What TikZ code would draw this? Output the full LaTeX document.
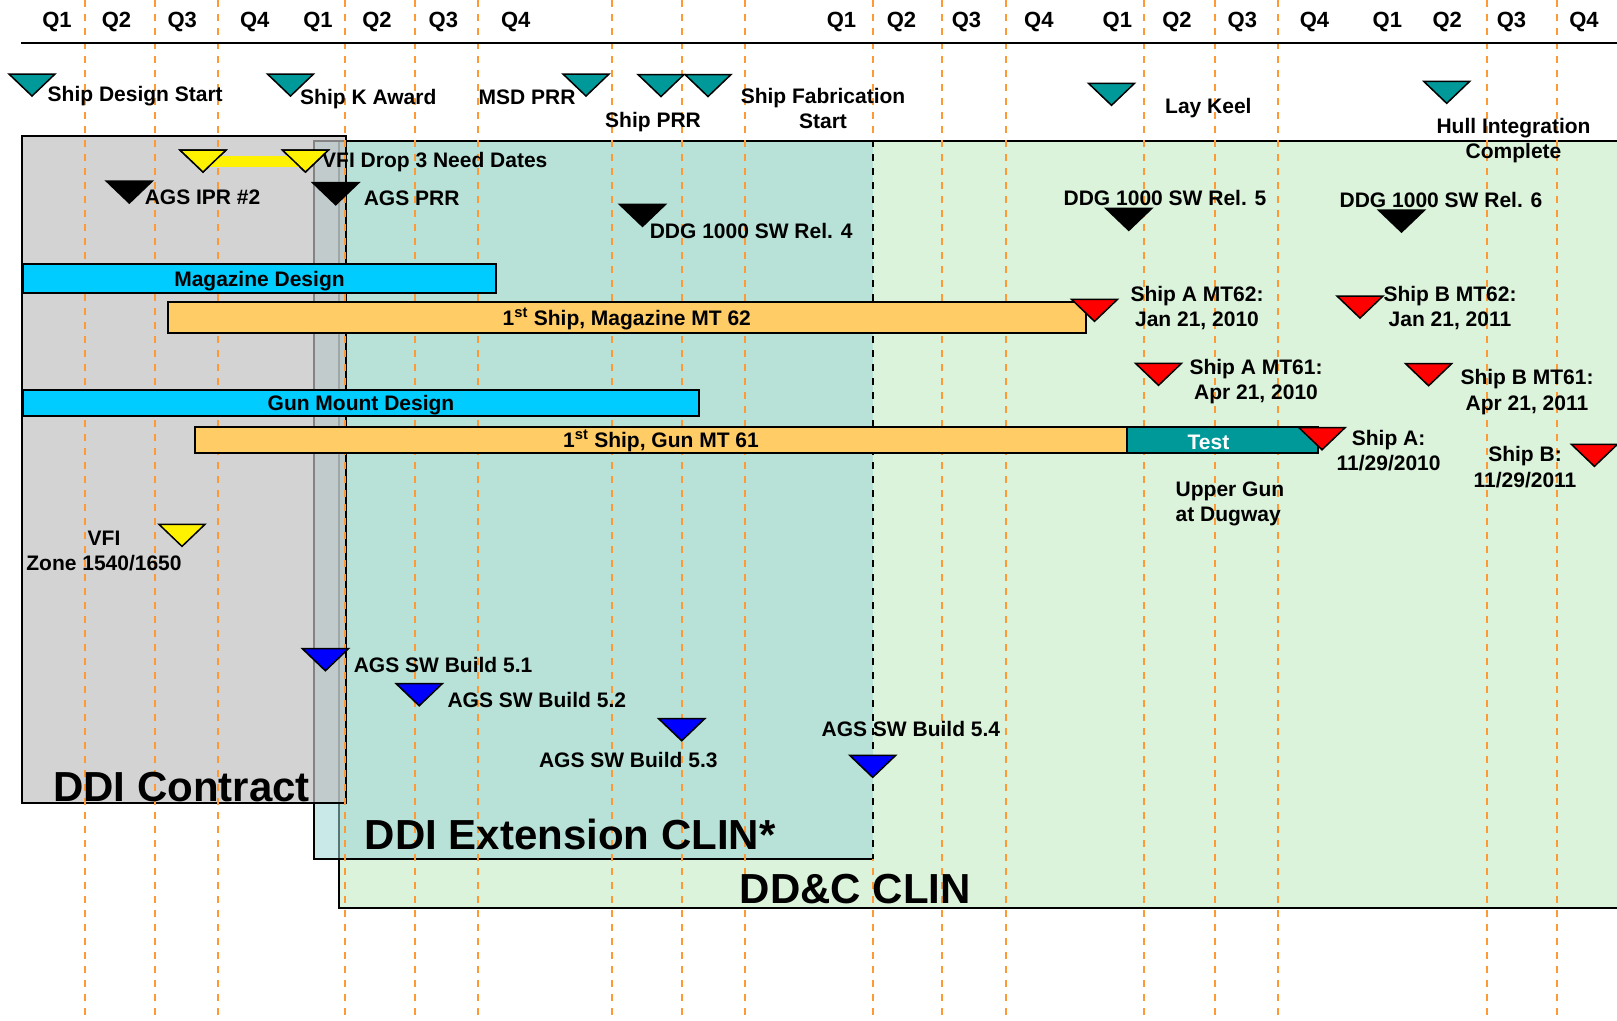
\documentclass[tikz,border=0pt]{standalone}
\usepackage{fontspec}
\setmainfont{Liberation Sans}
\usetikzlibrary{shapes.geometric}
\definecolor{mteal}{HTML}{009999}
\definecolor{mcyan}{HTML}{00CCFF}
\definecolor{mtan}{HTML}{FFCC66}
\definecolor{mgray}{HTML}{BFBFBF}
\definecolor{mext}{HTML}{9DD5D5}
\definecolor{mgreen}{HTML}{DBF2DB}
\definecolor{qcol}{HTML}{FF9933}
\definecolor{red}{HTML}{FF0000}
\tikzstyle{ms} = [isosceles triangle, isosceles triangle stretches, shape border rotate=270, minimum width=46pt, minimum height=22pt, inner sep=0pt, draw=black, line width=1.5pt, anchor=apex]
\tikzstyle{lbl} = [inner sep=0pt, anchor=base west, font=\bfseries\fontsize{21}{25.5}\selectfont]
\tikzstyle{lbl2} = [lbl, anchor=center, align=center]
\tikzstyle{bar} = [draw=black, line width=1.5pt, inner sep=0pt, text height=15pt, text depth=0pt, font=\bfseries\fontsize{21}{25.5}\selectfont]
\tikzstyle{big} = [inner sep=0pt, anchor=base west, font=\bfseries\fontsize{42}{48}\selectfont]
\tikzstyle{clin} = [draw=black, line width=2pt]
\tikzstyle{qline} = [draw=qcol, line width=2pt, dash pattern=on 7pt off 7pt]
\tikzstyle{vfibar} = [draw=yellow, line width=11pt]

\begin{document}
\begin{tikzpicture}[x=1pt, y=-1pt]
	\useasboundingbox (0,0) rectangle (1617,1020);
	\fill[mgreen] (339,141) rectangle (1640,908);
	\draw[clin] (1640,141) -- (339,141) -- (339,908) -- (1640,908);
	\fill[mext, fill opacity=.55] (313.5,141) rectangle (872.8,859);
	\draw[clin] (872.8,141) -- (313.5,141) -- (313.5,859) -- (872.8,859);
	\fill[mgray, fill opacity=.69] (22,136) rectangle (346.4,802.7);
	\draw[clin] (22,136) rectangle (346.4,802.7);
	\foreach \x in {85,155,218,345,415,478,612,682,745,872.8,942,1006,1144,1215,1278,1487,1557}
		\draw[qline] (\x,0) -- (\x,1020);
	\draw[clin, dash pattern=on 7pt off 7pt] (872.8,140) -- (872.8,859);
	\draw[line width=2pt] (21,43.3) -- (1617,43.3);
	\foreach \x/\q [count=\i] in {57/Q1, 116.5/Q2, 182.3/Q3, 254.7/Q4, 318/Q1, 377/Q2, 443.4/Q3, 515.8/Q4, 841.5/Q1, 901.5/Q2, 966.5/Q3, 1038.8/Q4, 1117.4/Q1, 1177/Q2, 1242.3/Q3, 1314.5/Q4, 1387.3/Q1, 1447.2/Q2, 1511.5/Q3, 1584/Q4}
		\node[lbl, anchor=base, font=\bfseries\fontsize{22}{26}\selectfont] (q\i) at (\x,27.5) {\q};

	\node[bar, fill=mcyan, minimum width=473pt, minimum height=29pt] (magdes) at (259.5,278.5) {Magazine Design};
	\node[bar, fill=mtan, minimum width=918pt, minimum height=31pt] (magmt) at (626.8,317.5) {1\textsuperscript{st} Ship, Magazine MT 62};
	\node[bar, fill=mcyan, minimum width=676pt, minimum height=26pt] (gundes) at (361,403) {Gun Mount Design};
	\node[bar, fill=mtan, minimum width=932pt, minimum height=26pt] (gunmt) at (661,440) {1\textsuperscript{st} Ship, Gun MT 61};
	\node[bar, fill=mteal, minimum width=191pt, minimum height=26pt] (testbar) at (1222.5,440) {};
	\node[lbl, anchor=base, text=white] (testl) at (1208.5,449) {Test};

	\node[lbl] (vfidl) at (322,167) {VFI Drop 3 Need Dates};
	\node[ms, fill=yellow] (vfiA) at (203,174) {};
	\node[ms, fill=yellow] (vfiB) at (305.4,174) {};
	\draw[vfibar] ([yshift=12.5pt]vfiA.apex) -- ([yshift=12.5pt]vfiB.apex);
	\node[ms, fill=yellow] (vfiA) at (203,174) {};
	\node[ms, fill=yellow] (vfiB) at (305.4,174) {};
	\node[ms, fill=yellow] (vfiZ) at (182,548.3) {};

	\node[ms, fill=mteal] (sds) at (32,98) {};
	\node[ms, fill=mteal] (ska) at (290.5,98) {};
	\node[ms, fill=mteal] (msd) at (586,98) {};
	\node[ms, fill=mteal] (sprrA) at (661,98.5) {};
	\node[ms, fill=mteal] (sprrB) at (708,98.5) {};
	\node[ms, fill=mteal] (keel) at (1111.5,107.3) {};
	\node[ms, fill=mteal] (hull) at (1446.7,105.3) {};

	\node[ms, fill=black] (ipr) at (129.3,205) {};
	\node[ms, fill=black] (agsprr) at (335.7,206.7) {};
	\node[ms, fill=black] (rel4) at (642.5,228.3) {};
	\node[ms, fill=black] (rel5) at (1128.8,232.3) {};
	\node[ms, fill=black] (rel6) at (1401.5,234) {};

	\node[ms, fill=red] (mtA62) at (1094.5,323.3) {};
	\node[ms, fill=red] (mtB62) at (1360,320) {};
	\node[ms, fill=red] (mtA61) at (1158.5,387.3) {};
	\node[ms, fill=red] (mtB61) at (1428.6,387.7) {};
	\node[ms, fill=red] (shipA) at (1322,451.7) {};
	\node[ms, fill=red] (shipB) at (1594.4,468.3) {};

	\node[ms, fill=blue] (b51) at (325.4,672.7) {};
	\node[ms, fill=blue] (b52) at (419.2,707.7) {};
	\node[ms, fill=blue] (b53) at (681.7,742.7) {};
	\node[ms, fill=blue] (b54) at (872.7,779.3) {};

	\node[lbl] (sdsl) at (47.5,101) {Ship Design Start};
	\node[lbl] (skal) at (300,104) {Ship K Award};
	\node[lbl] (msdl) at (478.5,104) {MSD PRR};
	\node[lbl] (sprrl) at (605,127) {Ship PRR};
	\node[lbl2] (sfsl) at (823,108.7) {Ship Fabrication\\Start};
	\node[lbl] (keell) at (1165,113.5) {Lay Keel};
	\node[lbl2] (hulll) at (1513.5,140.8) {Hull Integration\\Complete};
	\node[lbl] (iprl) at (144.6,204) {AGS IPR \#2};
	\node[lbl] (agsprrl) at (363.6,205) {AGS PRR};
	\node[lbl] (rel4l) at (649.6,238) {DDG 1000 SW Rel. 4};
	\node[lbl, anchor=base] (rel5l) at (1165,205) {DDG 1000 SW Rel. 5};
	\node[lbl, anchor=base] (rel6l) at (1441,207) {DDG 1000 SW Rel. 6};
	\node[lbl2] (mtA62l) at (1197,308) {Ship A MT62:\\Jan 21, 2010};
	\node[lbl2] (mtB62l) at (1450,308) {Ship B MT62:\\Jan 21, 2011};
	\node[lbl2] (mtA61l) at (1256,381.5) {Ship A MT61:\\Apr 21, 2010};
	\node[lbl2] (mtB61l) at (1527,392.1) {Ship B MT61:\\Apr 21, 2011};
	\node[lbl2] (shipAl) at (1388.6,450.6) {Ship A:\\11/29/2010};
	\node[lbl2] (shipBl) at (1525,466.9) {Ship B:\\11/29/2011};
	\node[lbl2, anchor=west, align=left] (dugway) at (1175.5,504.1) {Upper Gun\\at Dugway};
	\node[lbl2] (vfiZl) at (104,551.2) {VFI\\Zone 1540/1650};
	\node[lbl] (b51l) at (353.6,672) {AGS SW Build 5.1};
	\node[lbl] (b52l) at (447.3,707.5) {AGS SW Build 5.2};
	\node[lbl] (b53l) at (538.8,767.5) {AGS SW Build 5.3};
	\node[lbl] (b54l) at (821.4,736) {AGS SW Build 5.4};

	\node[big] (ddi) at (52.9,801.7) {DDI Contract};
	\node[big] (ext) at (364.7,849.3) {DDI Extension CLIN*};
	\node[big] (ddc) at (739.7,903.3) {DD\&C CLIN};
\end{tikzpicture}
\end{document}
